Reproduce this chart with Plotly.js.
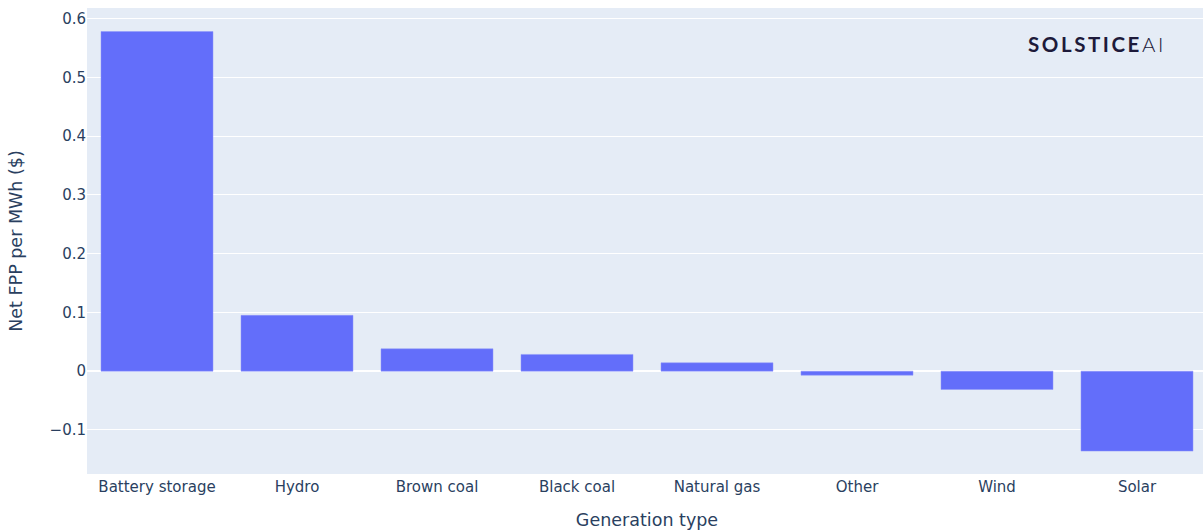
<!DOCTYPE html>
<html>
<head>
<meta charset="utf-8">
<script src="https://cdn.plot.ly/plotly-3.0.1.min.js"></script>
<style>
  html, body { margin: 0; padding: 0; overflow: hidden; background: #ffffff; }
  #chart { width: 1207px; height: 532px; }
</style>
</head>
<body>
<div id="chart"></div>
<script>
// Net FPP per MWh by generation type
const generationTypes = ["Battery storage", "Hydro", "Brown coal", "Black coal", "Natural gas", "Other", "Wind", "Solar"];
const netFppPerMwh = [0.578, 0.095, 0.038, 0.0285, 0.0142, -0.0068, -0.0312, -0.136];
const yTickValues = [-0.1, 0, 0.1, 0.2, 0.3, 0.4, 0.5, 0.6];
const yTickLabels = ["\u22120.1", "0", "0.1", "0.2", "0.3", "0.4", "0.5", "0.6"];

const textColor = "#2a3f5f";
const fontFamily = "DejaVu Sans, Verdana, sans-serif";

const trace = {
  type: "bar",
  x: generationTypes,
  y: netFppPerMwh,
  marker: { color: "#636efa", line: { color: "#8f97fb", width: 0.5 } },
  hoverinfo: "x+y"
};

const layout = {
  width: 1207,
  height: 532,
  margin: { l: 87, r: 0, t: 8, b: 58 },
  paper_bgcolor: "#ffffff",
  plot_bgcolor: "#e5ecf6",
  font: { family: fontFamily, color: textColor, size: 15 },
  bargap: 0.2,
  showlegend: false,
  xaxis: {
    type: "category",
    showgrid: false,
    ticklabelstandoff: 2,
    tickfont: { size: 15, family: fontFamily, color: textColor },
    title: { text: "Generation type", font: { size: 17.5, family: fontFamily, color: textColor }, standoff: 18 }
  },
  yaxis: {
    range: [-0.175, 0.618],
    tickvals: yTickValues,
    ticktext: yTickLabels,
    gridcolor: "#ffffff",
    gridwidth: 1,
    zeroline: true,
    zerolinecolor: "#ffffff",
    zerolinewidth: 2,
    tickfont: { size: 15, family: fontFamily, color: textColor },
    title: { text: "Net FPP per MWh ($)", font: { size: 17.5, family: fontFamily, color: textColor }, standoff: 22 }
  },
  annotations: [
    {
      xref: "paper", yref: "paper",
      x: 0.9625, y: 0.923,
      xanchor: "right", yanchor: "middle",
      showarrow: false,
      text: "<b>S\u2009O\u2009L\u2009S\u2009T\u2009I\u2009C\u2009E</b>\u2009<span style='font-weight:300'>A\u2009I</span>",
      font: { family: "Lato, DejaVu Sans, sans-serif", size: 20.5, color: "#1d1a3a" }
    }
  ]
};

Plotly.newPlot("chart", [trace], layout, { displayModeBar: false, staticPlot: true });
</script>
</body>
</html>
